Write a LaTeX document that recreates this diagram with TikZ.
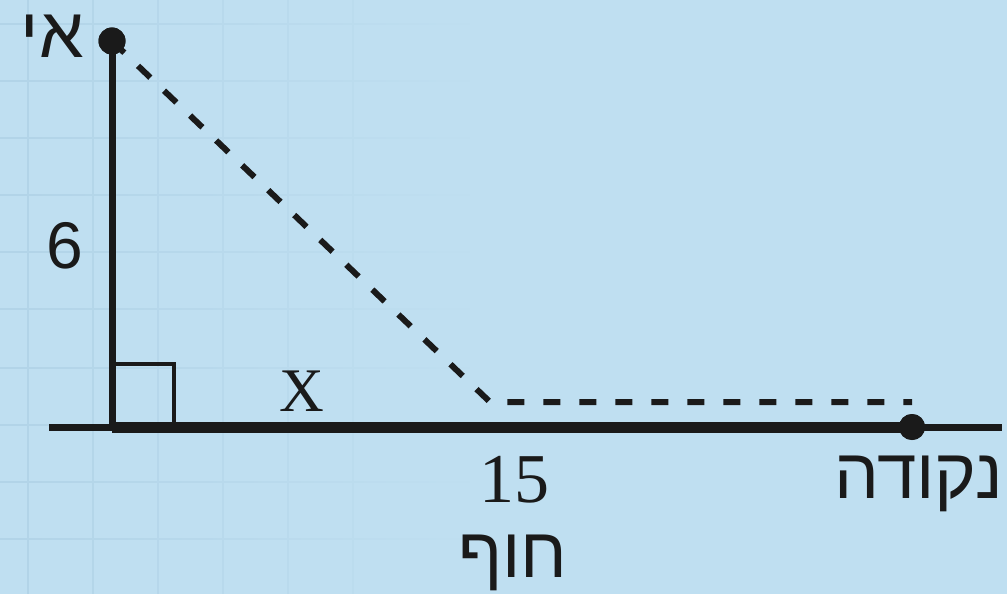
\documentclass[tikz,border=0pt]{standalone}
\usepackage{fontspec}
\setmainfont{Liberation Serif}
\newfontfamily\hebfont[Script=Hebrew]{Liberation Sans}
\newfontfamily\sansf{Liberation Sans}
\TeXXeTstate=1
\usetikzlibrary{fadings}
\definecolor{bgblue}{HTML}{BFDFF1}
\definecolor{gridblue}{HTML}{B2D4E8}
\definecolor{ink}{HTML}{1A1A1A}
\tikzfading[name=gridfade, left color=transparent!0, right color=transparent!100]
\tikzset{
  gridline/.style={draw=gridblue, line width=1.8pt},
  solidline/.style={draw=ink, line width=7pt},
  thickline/.style={draw=ink, line width=11pt},
  dashline/.style={draw=ink, line width=6pt, dash pattern=on 17pt off 19pt},
  squareline/.style={draw=ink, line width=4pt},
  dotnode/.style={circle, fill=ink, inner sep=0pt, minimum size=27pt},
  lbl/.style={text=ink, inner sep=0pt},
  heb/.style={font=\hebfont\fontsize{71}{76}\selectfont},
}
\begin{document}
\begin{tikzpicture}[x=1pt,y=-1pt]
\useasboundingbox (0,0) rectangle (1007,594);
\fill[bgblue] (0,0) rectangle (1007,594);
% faint grid, fading to the right
\path[gridline, path fading=gridfade]
  (28,0) -- (28,594) (93,0) -- (93,594) (158,0) -- (158,594)
  (223,0) -- (223,594) (288,0) -- (288,594) (353,0) -- (353,594)
  (0,24) -- (470,24) (0,81) -- (470,81) (0,138) -- (470,138)
  (0,195) -- (470,195) (0,252) -- (470,252) (0,309) -- (470,309)
  (0,368) -- (470,368) (0,425) -- (470,425) (0,482) -- (470,482)
  (0,539) -- (470,539);
% points
\coordinate (L) at (49,427);
\coordinate (R) at (1002,427);
\coordinate (B) at (112,427);
\coordinate (P) at (490,402);
\coordinate (Q) at (912,402);
\coordinate (S1) at (112,364);
\coordinate (S2) at (174,364);
\coordinate (S3) at (174,427);
\node[dotnode] (A) at (112,41) {};
\node[dotnode, minimum size=26pt] (D) at (912,427) {};
% baseline
\draw[solidline] (L) -- (R);
\draw[thickline] (B) -- (D.center);
% vertical side
\draw[solidline] (A.center) -- (B);
% right angle
\draw[squareline] (S1) -- (S2) -- (S3);
% dashed path
\draw[dashline] (A.center) -- (P) -- (Q);
\node[dotnode] at (A.center) {};
\node[dotnode, minimum size=26pt] at (D.center) {};
% labels
\node[lbl, heb, anchor=base east] (tA) at (84,58) {\beginR אי\endR};
\node[lbl, anchor=base, font=\sansf\fontsize{66}{70}\selectfont] (t6) at (65,268) {6};
\node[lbl, anchor=base, font=\fontsize{62}{70}\selectfont] (tX) at (302,411) {X};
\node[lbl, anchor=base, font=\fontsize{70}{74}\selectfont] (t15) at (514,502) {15};
\node[lbl, heb, anchor=base] (tH) at (513,577) {\beginR חוף\endR};
\node[lbl, heb, anchor=base east] (tN) at (1003,498) {\beginR נקודה\endR};
\end{tikzpicture}
\end{document}
